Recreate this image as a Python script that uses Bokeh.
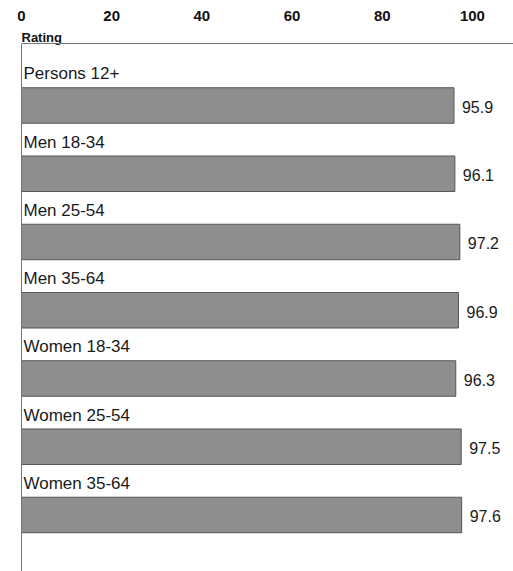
from bokeh.plotting import figure
from bokeh.models import ColumnDataSource, Range1d, FixedTicker, Span
from bokeh.core.properties import value
from bokeh.embed import file_html
from bokeh.resources import INLINE

groups = ["Persons 12+", "Men 18-34", "Men 25-54", "Men 35-64",
          "Women 18-34", "Women 25-54", "Women 35-64"]
ratings = [95.9, 96.1, 97.2, 96.9, 96.3, 97.5, 97.6]
x_ticks = [0, 20, 40, 60, 80, 100]
axis_title = "Rating"

FONT = "Liberation Sans"
Y_TOP = -1.1575      # top of the drawing area (just under tick labels)
Y_FRAME = -0.908     # visible frame line
Y_BOTTOM = 6.828

pos = list(range(len(groups)))
src = ColumnDataSource(dict(
    y=pos,
    ylab=[p - 0.465 for p in pos],
    yval=[p + 0.02 for p in pos],
    zero=[0] * len(groups),
    rating=ratings,
    group=groups,
    label=[f"{r:.1f}" for r in ratings],
))
title_src = ColumnDataSource(dict(x=[0], y=[-0.995], t=[axis_title]))

p = figure(width=513, height=571, output_backend="svg", toolbar_location=None,
           x_range=Range1d(0, 109.1), y_range=Range1d(Y_BOTTOM, Y_TOP),
           x_axis_location="above", y_axis_location="left",
           min_border_left=21, min_border_right=0, min_border_top=26,
           min_border_bottom=0)
p.outline_line_color = None
p.grid.visible = False
p.background_fill_color = "white"
p.border_fill_color = "white"

xa = p.xaxis[0]
xa.ticker = FixedTicker(ticks=x_ticks)
xa.major_tick_out = 0
xa.major_tick_in = 0
xa.minor_tick_out = 0
xa.minor_tick_in = 0
xa.major_label_standoff = 6
xa.major_label_text_font = FONT
xa.major_label_text_font_style = "bold"
xa.major_label_text_font_size = "15px"
xa.major_label_text_color = "#111111"
xa.axis_line_color = None

ya = p.yaxis[0]
ya.ticker = FixedTicker(ticks=[])
ya.bounds = (Y_FRAME, Y_BOTTOM)
ya.major_tick_out = 0
ya.major_tick_in = 0
ya.minor_tick_out = 0
ya.minor_tick_in = 0
ya.major_label_text_font_size = "0px"
ya.major_label_standoff = 0
ya.axis_line_color = "#777777"

p.add_layout(Span(location=Y_FRAME, dimension="width",
                  line_color="#777777", line_width=1))

p.hbar(y="y", left="zero", right="rating", height=0.52, source=src,
       fill_color="#8e8e8e", line_color="#555555", line_width=1)

p.text(x="zero", y="ylab", text="group", source=src, x_offset=2,
       text_font=value(FONT), text_font_size="17px", text_color="#1a1a1a",
       text_baseline="alphabetic", text_align="left")

p.text(x="rating", y="yval", text="label", source=src, x_offset=8,
       text_font=value(FONT), text_font_size="16px", text_color="#1a1a1a",
       text_baseline="middle", text_align="left")

p.text(x="x", y="y", text="t", source=title_src,
       text_font=value(FONT), text_font_style="bold",
       text_font_size="13px", text_color="#111111",
       text_baseline="alphabetic", text_align="left")

open("out.html", "w").write(file_html(p, INLINE))
